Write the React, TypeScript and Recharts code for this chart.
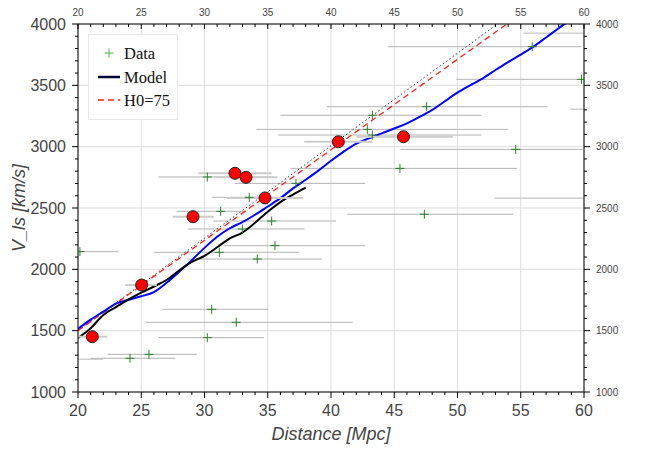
import React from 'react'
import {
  ComposedChart,
  Scatter,
  Line,
  XAxis,
  YAxis,
  CartesianGrid,
  ErrorBar,
} from 'recharts'

// measured galaxies: distance, velocity and the x error (low / high side)
const dataDist = [20.15, 24.11, 25.61, 30.22, 32.51, 30.57, 30.22, 33.54, 31.28, 35.31, 32.99, 35.57, 31.17, 34.17, 37.23, 43.27, 42.87, 43.27, 45.45, 47.38, 47.56, 55.91, 54.6, 59.8]
const dataVel = [2144, 1275, 1307, 1443, 1568, 1674, 2753, 2587, 2473, 2394, 2329, 2193, 2139, 2084, 2701, 3256, 3141, 3095, 2823, 2449, 3326, 3815, 2978, 3549]
const dataErrLo = [3.15, 3.1, 3.26, 3.87, 7.16, 3.91, 3.87, 2.94, 3.48, 4.61, 4.29, 4.07, 5.17, 5.57, 4.83, 7.27, 8.77, 7.47, 8.65, 6.08, 7.9, 11.41, 9.1, 9.9]
const dataErrHi = [3.05, 3.6, 3.79, 4.48, 9.19, 4.47, 5.28, 3.56, 2.02, 5.09, 4.91, 7.13, 6.33, 5.13, 5.47, 8.63, 11.13, 8.63, 9.25, 7.02, 9.54, 3.89, 5.3, 10]

// galaxies outside the x range: only part of their error bar shows
const offDist = [63, 64, 62, 17]
const offVel = [3924, 3305, 2579, 1267]
const offErrLo = [7.8, 5.1, 9.1, 3]
const offErrHi = [5, 5, 5, 5]

// highlighted points (red circles)
const redDist = [32.41, 33.28, 34.78, 29.09, 25.03, 21.13, 40.58, 45.73]
const redVel = [2783, 2750, 2582, 2429, 1872, 1451, 3040, 3081]
const redErrLo = [2.9, 2.5, 3.0, 1.6, 1.3, 1.2, 2.7, 3.7]
const redErrHi = [2.9, 2.5, 3.0, 1.65, 1.2, 1.2, 2.7, 3.9]

// model curves
const blueDist = [20, 21, 22, 23, 24, 25, 26, 27, 28, 29, 30, 31, 32, 33, 34, 35, 36, 37, 38, 39, 40, 41, 42, 43, 44, 45, 46, 47, 48, 49, 50, 51, 52, 53, 54, 55, 56, 57, 58, 59, 60]
const blueVel = [1515, 1590, 1655, 1720, 1752, 1780, 1815, 1890, 1980, 2075, 2175, 2265, 2335, 2385, 2445, 2512, 2580, 2660, 2730, 2805, 2885, 2960, 3025, 3068, 3108, 3148, 3190, 3242, 3300, 3370, 3440, 3500, 3557, 3625, 3690, 3750, 3815, 3890, 3965, 4040, 4110]

const blackDist = [20, 21, 22, 23, 24, 25, 26, 27, 28, 29, 30, 31, 32, 33, 34, 35, 36, 37, 38]
const blackVel = [1440, 1520, 1628, 1692, 1755, 1810, 1860, 1913, 1990, 2060, 2110, 2180, 2253, 2300, 2380, 2470, 2548, 2610, 2666]

const hubbleDist = [20, 30, 40, 50, 60]
const hubbleVel = [1500, 2237, 2975, 3712, 4450]
const dottedVel = [1500, 2254, 3008, 3762, 4516]

const xTicks = Array.from({ length: 41 }, (_, i) => 20 + i)
const yTicks = Array.from({ length: 31 }, (_, i) => 1000 + i * 100)
const xGrid = [20, 25, 30, 35, 40, 45, 50, 55, 60]
const yGrid = [1000, 1500, 2000, 2500, 3000, 3500, 4000]
const X_MIN = 20
const X_MAX = 60

const pts = (d: number[], v: number[]) => d.map((x, i) => ({ d: x, v: v[i] }))
// error bars are not clipped by recharts, so cut them at the plot edges
const withErr = (d: number[], v: number[], lo: number[], hi: number[]) =>
  d.map((x, i) => ({
    d: x,
    v: v[i],
    err: [Math.min(lo[i], x - X_MIN), Math.min(hi[i], X_MAX - x)],
  }))
const dataPts = withErr(dataDist, dataVel, dataErrLo, dataErrHi)
const redPts = withErr(redDist, redVel, redErrLo, redErrHi)
const offPts = offDist.map((x, i) => {
  const a = Math.max(x - offErrLo[i], X_MIN)
  const b = Math.min(x + offErrHi[i], X_MAX)
  return { d: a, v: offVel[i], err: [0, b - a] }
})

const SANS = '"Liberation Sans", Arial, sans-serif'
const SERIF = '"Liberation Serif", "Times New Roman", serif'
const LABEL = '#444'

const BottomTick = ({ x, y, payload }: any) => {
  const major = payload.value % 5 === 0
  return (
    <g>
      <line x1={x} x2={x} y1={y} y2={y + (major ? 6 : 3)} stroke="#000" />
      {major && (
        <text x={x} y={y + 24} textAnchor="middle" fontSize={16} fill={LABEL} fontFamily={SANS}>
          {payload.value}
        </text>
      )}
    </g>
  )
}

const TopTick = ({ x, y, payload }: any) => {
  const major = payload.value % 5 === 0
  return (
    <g>
      <line x1={x} x2={x} y1={y} y2={y + (major ? 5 : 3)} stroke="#000" />
      {major && (
        <text x={x} y={y - 8} textAnchor="middle" fontSize={10} fill={LABEL} fontFamily={SANS}>
          {payload.value}
        </text>
      )}
    </g>
  )
}

const LeftTick = ({ x, y, payload }: any) => {
  const major = payload.value % 500 === 0
  return (
    <g>
      <line x1={x} x2={x - (major ? 6 : 3)} y1={y} y2={y} stroke="#000" />
      {major && (
        <text x={x - 12} y={y + 5.5} textAnchor="end" fontSize={16} fill={LABEL} fontFamily={SANS}>
          {payload.value}
        </text>
      )}
    </g>
  )
}

const RightTick = ({ x, y, payload }: any) => {
  const major = payload.value % 500 === 0
  return (
    <g>
      <line x1={x} x2={x + (major ? 6 : 3)} y1={y} y2={y} stroke="#000" />
      {major && (
        <text x={x + 12} y={y + 3.5} textAnchor="start" fontSize={10} fill={LABEL} fontFamily={SANS}>
          {payload.value}
        </text>
      )}
    </g>
  )
}

const PlusMark = ({ cx, cy }: any) => (
  <g stroke="#2e7d2e" strokeWidth={1}>
    <line x1={cx - 4.5} x2={cx + 4.5} y1={cy} y2={cy} />
    <line x1={cx} x2={cx} y1={cy - 4.5} y2={cy + 4.5} />
  </g>
)

const NoMark = () => <g />

const RedDot = ({ cx, cy }: any) => (
  <circle cx={cx} cy={cy} r={6} fill="#ff0000" stroke="#222" strokeWidth={1} />
)

export default function App() {
  return (
    <div style={{ position: 'absolute', left: 0, top: 0 }}>
      <ComposedChart width={650} height={450} margin={{ top: 0, right: 16, bottom: 18, left: 18 }}>
        <CartesianGrid
          xAxisId="bottom"
          yAxisId="left"
          stroke="#dddddd"
          verticalValues={xGrid}
          horizontalValues={yGrid}
        />
        <XAxis
          xAxisId="bottom"
          type="number"
          dataKey="d"
          domain={[X_MIN, X_MAX]}
          allowDataOverflow
          ticks={xTicks}
          interval={0}
          height={40}
          tickSize={0}
          tickMargin={0}
          tickLine={false}
          tick={<BottomTick />}
          axisLine={{ stroke: '#000' }}
        />
        <XAxis
          xAxisId="top"
          orientation="top"
          type="number"
          dataKey="d"
          domain={[X_MIN, X_MAX]}
          allowDataOverflow
          ticks={xTicks}
          interval={0}
          height={24}
          tickSize={0}
          tickMargin={0}
          tickLine={false}
          tick={<TopTick />}
          axisLine={{ stroke: '#000' }}
        />
        <YAxis
          yAxisId="left"
          type="number"
          dataKey="v"
          domain={[1000, 4000]}
          allowDataOverflow
          ticks={yTicks}
          interval={0}
          width={60}
          tickSize={0}
          tickMargin={0}
          tickLine={false}
          tick={<LeftTick />}
          axisLine={{ stroke: '#000' }}
        />
        <YAxis
          yAxisId="right"
          orientation="right"
          type="number"
          dataKey="v"
          domain={[1000, 4000]}
          allowDataOverflow
          ticks={yTicks}
          interval={0}
          width={50}
          tickSize={0}
          tickMargin={0}
          tickLine={false}
          tick={<RightTick />}
          axisLine={{ stroke: '#000' }}
        />

        <Scatter
          xAxisId="bottom"
          yAxisId="left"
          data={offPts}
          shape={<NoMark />}
          isAnimationActive={false}
        >
          <ErrorBar dataKey="err" direction="x" width={0} stroke="#cfcfcf" strokeWidth={1.5} isAnimationActive={false} />
        </Scatter>

        <Scatter
          xAxisId="bottom"
          yAxisId="left"
          data={dataPts}
          shape={<PlusMark />}
          isAnimationActive={false}
        >
          <ErrorBar dataKey="err" direction="x" width={0} stroke="#b3b3b3" strokeWidth={1} isAnimationActive={false} />
        </Scatter>

        <Line
          xAxisId="bottom"
          yAxisId="left"
          data={pts(hubbleDist, dottedVel)}
          dataKey="v"
          type="linear"
          stroke="#333"
          strokeWidth={1}
          strokeDasharray="1.5 2.5"
          dot={false}
          activeDot={false}
          isAnimationActive={false}
        />
        <Line
          xAxisId="bottom"
          yAxisId="left"
          data={pts(hubbleDist, hubbleVel)}
          dataKey="v"
          type="linear"
          stroke="#ff2020"
          strokeWidth={1.3}
          strokeDasharray="6 4"
          dot={false}
          activeDot={false}
          isAnimationActive={false}
        />
        <Line
          xAxisId="bottom"
          yAxisId="left"
          data={pts(blueDist, blueVel)}
          dataKey="v"
          type="monotone"
          stroke="#0000ff"
          strokeWidth={2}
          dot={false}
          activeDot={false}
          isAnimationActive={false}
        />
        <Line
          xAxisId="bottom"
          yAxisId="left"
          data={pts(blackDist, blackVel)}
          dataKey="v"
          type="monotone"
          stroke="#000"
          strokeWidth={2}
          dot={false}
          activeDot={false}
          isAnimationActive={false}
        />

        <Scatter
          xAxisId="bottom"
          yAxisId="left"
          data={redPts}
          shape={<RedDot />}
          isAnimationActive={false}
        >
          <ErrorBar dataKey="err" direction="x" width={0} stroke="#cccccc" strokeWidth={2} isAnimationActive={false} />
        </Scatter>

        {/* legend */}
        <g>
          <rect x={88.5} y={34.5} width={89} height={85} fill="#fff" fillOpacity={0.9} stroke="#e8e8e8" />
          <g stroke="#4caf50" strokeWidth={1}>
            <line x1={104.5} x2={113.5} y1={53} y2={53} />
            <line x1={109} x2={109} y1={48.5} y2={57.5} />
          </g>
          <text x={124} y={59} fontSize={16.5} fontFamily={SERIF} fill="#111">Data</text>
          <line x1={98} x2={120} y1={77} y2={77} stroke="#00003a" strokeWidth={2.5} />
          <text x={124} y={83} fontSize={16.5} fontFamily={SERIF} fill="#111">Model</text>
          <line x1={98} x2={120} y1={100} y2={100} stroke="#ff2020" strokeWidth={1.3} strokeDasharray="6 4" />
          <text x={124} y={106} fontSize={16.5} fontFamily={SERIF} fill="#111">H0=75</text>
        </g>

        {/* axis titles */}
        <text x={331} y={440} textAnchor="middle" fontSize={18} fontStyle="italic" fill={LABEL} fontFamily={SANS}>
          Distance [Mpc]
        </text>
        <text
          transform="translate(25,208) rotate(-90)"
          textAnchor="middle"
          fontSize={18}
          fontStyle="italic"
          fill={LABEL}
          fontFamily={SANS}
        >
          V_ls [km/s]
        </text>
      </ComposedChart>
    </div>
  )
}
